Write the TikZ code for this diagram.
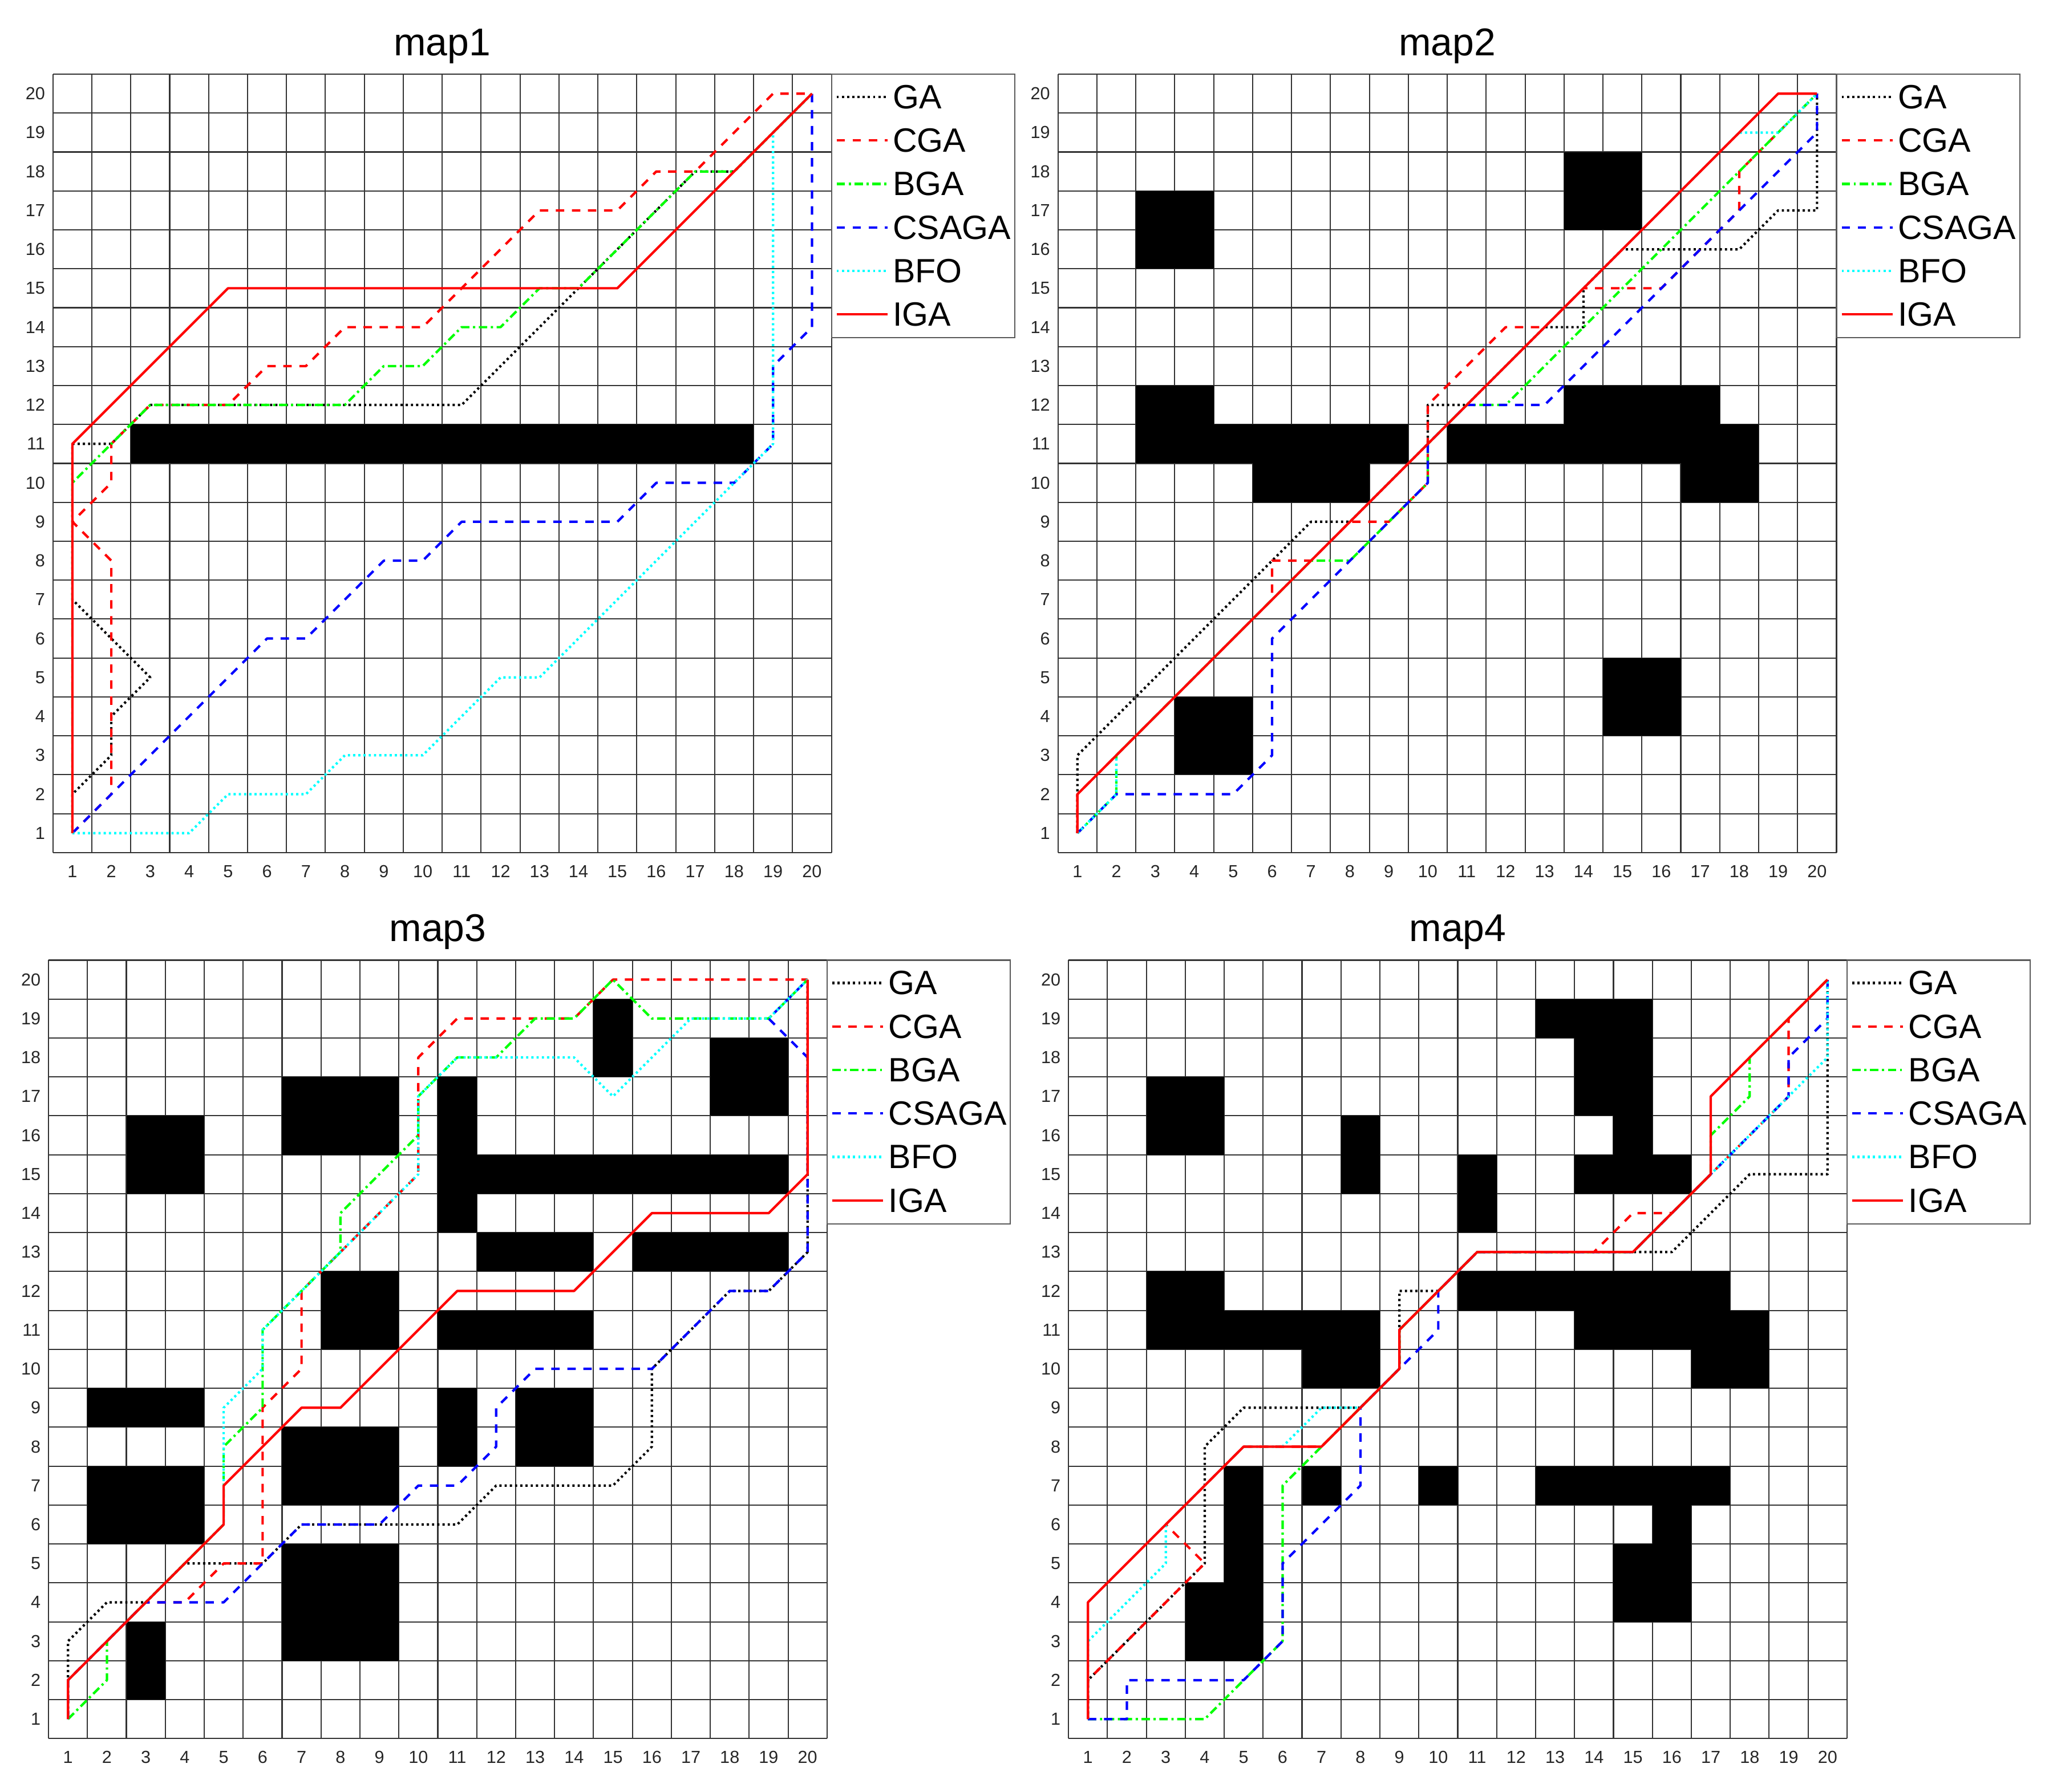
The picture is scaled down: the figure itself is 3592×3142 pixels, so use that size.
\documentclass[tikz,border=0pt]{standalone}
\usepackage{fontspec}
\setmainfont{Liberation Sans}
\definecolor{mred}{rgb}{1,0,0}
\definecolor{mgreen}{rgb}{0,1,0}
\definecolor{mblue}{rgb}{0,0,1}
\definecolor{mcyan}{rgb}{0,1,1}
\tikzset{
 gridline/.style={draw=black!80, line width=0.6pt},
 obst/.style={fill=black},
 pth/.style={line width=1.2pt, line join=round},
 ga/.style={pth, draw=black, dash pattern=on 1.1pt off 1.5pt},
 cga/.style={pth, draw=mred, dash pattern=on 4.2pt off 3.8pt},
 bga/.style={pth, draw=mgreen, dash pattern=on 4.2pt off 1.8pt on 1.1pt off 1.8pt},
 csaga/.style={pth, draw=mblue, dash pattern=on 4.2pt off 3.8pt},
 bfo/.style={pth, draw=mcyan, dash pattern=on 1.1pt off 1.5pt},
 iga/.style={pth, draw=mred},
 ticklab/.style={font=\fontsize{8.7}{10}\selectfont, text=black!85, inner sep=0pt},
 legtext/.style={font=\fontsize{16.8}{20}\selectfont, anchor=west, inner sep=0pt},
 titletext/.style={font=\fontsize{19.3}{23}\selectfont, anchor=base, inner sep=0pt},
 legbox/.style={draw=black!65, line width=0.6pt, fill=white},
}
\newcommand\mapframe[2]{%
 \foreach \k in {0,...,20} {
   \draw[gridline] (\k+0.5,0.5) -- (\k+0.5,20.5);
   \draw[gridline] (0.5,\k+0.5) -- (20.5,\k+0.5);
 }
 \foreach \k in {1,...,20} {
   \node[ticklab] (#1x\k) at (\k,0.016) {\k};
   \node[ticklab,anchor=east] (#1y\k) at (0.306,\k) {\k};
 }
 \node[titletext] (#1t) at (10.5,20.976) {#2};
}
\newcommand\mlegend[1]{%
 \draw[legbox] (20.5,20.5) rectangle (25.207,13.726);
 \draw[ga] (20.632,19.9135) -- (21.937,19.9135);
 \node[legtext] (#1l0) at (22.069,19.9135) {GA};
 \draw[cga] (20.632,18.7962) -- (21.937,18.7962);
 \node[legtext] (#1l1) at (22.069,18.7962) {CGA};
 \draw[bga] (20.632,17.6789) -- (21.937,17.6789);
 \node[legtext] (#1l2) at (22.069,17.6789) {BGA};
 \draw[csaga] (20.632,16.5616) -- (21.937,16.5616);
 \node[legtext] (#1l3) at (22.069,16.5616) {CSAGA};
 \draw[bfo] (20.632,15.4443) -- (21.937,15.4443);
 \node[legtext] (#1l4) at (22.069,15.4443) {BFO};
 \draw[iga] (20.632,14.327) -- (21.937,14.327);
 \node[legtext] (#1l5) at (22.069,14.327) {IGA};
}
\begin{document}
\begin{tikzpicture}[x=0.01cm,y=-0.01cm]
\useasboundingbox (0,0) rectangle (3592,3142);
\fill[white] (0,0) rectangle (3592,3142);

% ---------------- map1
\begin{scope}[shift={(0.586cm,-15.281cm)}, x=0.682cm, y=0.682cm]
 \mapframe{ma}{map1}
 \fill[obst] (2.5,10.5) rectangle (18.5,11.5);
 \draw[ga] (1,1)--(1,2)--(2,3)--(2,4)--(3,5)--(2,6)--(1,7)--(1,11)--(2,11)--(3,12)--(11,12)--(14,15)--(17,18)--(18,18)--(20,20);
 \draw[cga] (1,1)--(2,2)--(2,8)--(1,9)--(2,10)--(2,11)--(3,12)--(5,12)--(6,13)--(7,13)--(8,14)--(10,14)--(13,17)--(15,17)--(16,18)--(17,18)--(19,20)--(20,20);
 \draw[bga] (1,1)--(1,10)--(3,12)--(8,12)--(9,13)--(10,13)--(11,14)--(12,14)--(13,15)--(14,15)--(17,18)--(18,18)--(20,20);
 \draw[csaga] (1,1)--(6,6)--(7,6)--(9,8)--(10,8)--(11,9)--(15,9)--(16,10)--(18,10)--(19,11)--(19,13)--(20,14)--(20,20);
 \draw[bfo] (1,1)--(4,1)--(5,2)--(7,2)--(8,3)--(10,3)--(12,5)--(13,5)--(19,11)--(19,19)--(20,20);
 \draw[iga] (1,1)--(1,11)--(5,15)--(15,15)--(20,20);
 \mlegend{ma}
\end{scope}

% ---------------- map2
\begin{scope}[shift={(18.195cm,-15.281cm)}, x=0.682cm, y=0.682cm]
 \mapframe{mb}{map2}
 \fill[obst] (2.5,15.5) rectangle (4.5,17.5);
 \fill[obst] (13.5,16.5) rectangle (15.5,18.5);
 \fill[obst] (2.5,10.5) rectangle (4.5,12.5);
 \fill[obst] (4.5,10.5) rectangle (9.5,11.5);
 \fill[obst] (5.5,9.5) rectangle (8.5,10.5);
 \fill[obst] (13.5,11.5) rectangle (17.5,12.5);
 \fill[obst] (10.5,10.5) rectangle (18.5,11.5);
 \fill[obst] (16.5,9.5) rectangle (18.5,10.5);
 \fill[obst] (3.5,2.5) rectangle (5.5,4.5);
 \fill[obst] (14.5,3.5) rectangle (16.5,5.5);
 \draw[ga] (1,1)--(1,3)--(7,9)--(8,9)--(10,11)--(10,12)--(11,12)--(13,14)--(14,14)--(14,15)--(15,16)--(18,16)--(19,17)--(20,17)--(20,20);
 \draw[cga] (1,1)--(1,2)--(6,7)--(6,8)--(7,8)--(8,9)--(9,9)--(10,10)--(10,12)--(12,14)--(13,14)--(14,15)--(16,15)--(18,17)--(18,18)--(20,20);
 \draw[bga] (1,1)--(2,2)--(2,3)--(7,8)--(8,8)--(10,10)--(10,11)--(11,12)--(12,12)--(20,20);
 \draw[csaga] (1,1)--(2,2)--(5,2)--(6,3)--(6,6)--(8,8)--(10,10)--(10,11)--(11,12)--(13,12)--(20,19)--(20,20);
 \draw[bfo] (1,1)--(2,2)--(2,3)--(18,19)--(19,19)--(20,20);
 \draw[iga] (1,1)--(1,2)--(19,20)--(20,20);
 \mlegend{mb}
\end{scope}

% ---------------- map3
\begin{scope}[shift={(0.509cm,-30.806cm)}, x=0.682cm, y=0.682cm]
 \mapframe{mc}{map3}
 \fill[obst] (2.5,14.5) rectangle (4.5,16.5);
 \fill[obst] (6.5,15.5) rectangle (9.5,17.5);
 \fill[obst] (10.5,13.5) rectangle (11.5,17.5);
 \fill[obst] (11.5,14.5) rectangle (19.5,15.5);
 \fill[obst] (14.5,17.5) rectangle (15.5,19.5);
 \fill[obst] (17.5,16.5) rectangle (19.5,18.5);
 \fill[obst] (11.5,12.5) rectangle (14.5,13.5);
 \fill[obst] (15.5,12.5) rectangle (19.5,13.5);
 \fill[obst] (7.5,10.5) rectangle (9.5,12.5);
 \fill[obst] (10.5,10.5) rectangle (14.5,11.5);
 \fill[obst] (10.5,7.5) rectangle (11.5,9.5);
 \fill[obst] (12.5,7.5) rectangle (14.5,9.5);
 \fill[obst] (1.5,8.5) rectangle (4.5,9.5);
 \fill[obst] (1.5,5.5) rectangle (4.5,7.5);
 \fill[obst] (6.5,6.5) rectangle (9.5,8.5);
 \fill[obst] (6.5,2.5) rectangle (9.5,5.5);
 \fill[obst] (2.5,1.5) rectangle (3.5,3.5);
 \draw[ga] (1,1)--(1,3)--(2,4)--(3,4)--(4,5)--(6,5)--(7,6)--(11,6)--(12,7)--(15,7)--(16,8)--(16,10)--(18,12)--(19,12)--(20,13)--(20,20);
 \draw[cga] (1,1)--(1,2)--(3,4)--(4,4)--(5,5)--(6,5)--(6,9)--(7,10)--(7,12)--(10,15)--(10,18)--(11,19)--(14,19)--(15,20)--(20,20);
 \draw[bga] (1,1)--(2,2)--(2,3)--(5,6)--(5,8)--(6,9)--(6,11)--(8,13)--(8,14)--(9,15)--(10,16)--(10,17)--(11,18)--(12,18)--(13,19)--(14,19)--(15,20)--(16,19)--(19,19)--(20,20);
 \draw[csaga] (1,1)--(1,2)--(3,4)--(5,4)--(7,6)--(9,6)--(10,7)--(11,7)--(12,8)--(12,9)--(13,10)--(16,10)--(18,12)--(19,12)--(20,13)--(20,18)--(19,19)--(20,20);
 \draw[bfo] (1,1)--(1,2)--(5,6)--(5,9)--(6,10)--(6,11)--(10,15)--(10,17)--(11,18)--(14,18)--(15,17)--(17,19)--(19,19)--(20,20);
 \draw[iga] (1,1)--(1,2)--(5,6)--(5,7)--(7,9)--(8,9)--(11,12)--(14,12)--(16,14)--(19,14)--(20,15)--(20,20);
 \mlegend{mc}
\end{scope}

% ---------------- map4
\begin{scope}[shift={(18.379cm,-30.806cm)}, x=0.682cm, y=0.682cm]
 \mapframe{md}{map4}
 \fill[obst] (2.5,15.5) rectangle (4.5,17.5);
 \fill[obst] (7.5,14.5) rectangle (8.5,16.5);
 \fill[obst] (10.5,13.5) rectangle (11.5,15.5);
 \fill[obst] (12.5,18.5) rectangle (15.5,19.5);
 \fill[obst] (13.5,16.5) rectangle (15.5,18.5);
 \fill[obst] (14.5,15.5) rectangle (15.5,16.5);
 \fill[obst] (13.5,14.5) rectangle (16.5,15.5);
 \fill[obst] (2.5,11.5) rectangle (4.5,12.5);
 \fill[obst] (2.5,10.5) rectangle (8.5,11.5);
 \fill[obst] (6.5,9.5) rectangle (8.5,10.5);
 \fill[obst] (10.5,11.5) rectangle (17.5,12.5);
 \fill[obst] (13.5,10.5) rectangle (18.5,11.5);
 \fill[obst] (16.5,9.5) rectangle (18.5,10.5);
 \fill[obst] (6.5,6.5) rectangle (7.5,7.5);
 \fill[obst] (9.5,6.5) rectangle (10.5,7.5);
 \fill[obst] (12.5,6.5) rectangle (17.5,7.5);
 \fill[obst] (15.5,5.5) rectangle (16.5,6.5);
 \fill[obst] (14.5,3.5) rectangle (16.5,5.5);
 \fill[obst] (4.5,2.5) rectangle (5.5,7.5);
 \fill[obst] (3.5,2.5) rectangle (4.5,4.5);
 \draw[ga] (1,1)--(1,2)--(4,5)--(4,8)--(5,9)--(8,9)--(9,10)--(9,12)--(10,12)--(11,13)--(16,13)--(18,15)--(20,15)--(20,20);
 \draw[cga] (1,1)--(1,2)--(4,5)--(3,6)--(5,8)--(7,8)--(9,10)--(9,11)--(11,13)--(14,13)--(15,14)--(16,14)--(17,15)--(19,17)--(19,19)--(20,20);
 \draw[bga] (1,1)--(4,1)--(6,3)--(6,7)--(7,8)--(9,10)--(9,11)--(11,13)--(15,13)--(17,15)--(17,16)--(18,17)--(18,18)--(20,20);
 \draw[csaga] (1,1)--(2,1)--(2,2)--(5,2)--(6,3)--(6,5)--(8,7)--(8,9)--(9,10)--(10,11)--(10,12)--(11,13)--(15,13)--(17,15)--(19,17)--(19,18)--(20,19)--(20,20);
 \draw[bfo] (1,1)--(1,3)--(3,5)--(3,6)--(5,8)--(6,8)--(7,9)--(8,9)--(9,10)--(9,11)--(11,13)--(15,13)--(17,15)--(20,18)--(20,20);
 \draw[iga] (1,1)--(1,4)--(5,8)--(7,8)--(9,10)--(9,11)--(11,13)--(15,13)--(17,15)--(17,17)--(20,20);
 \mlegend{md}
\end{scope}
\end{tikzpicture}
\end{document}
